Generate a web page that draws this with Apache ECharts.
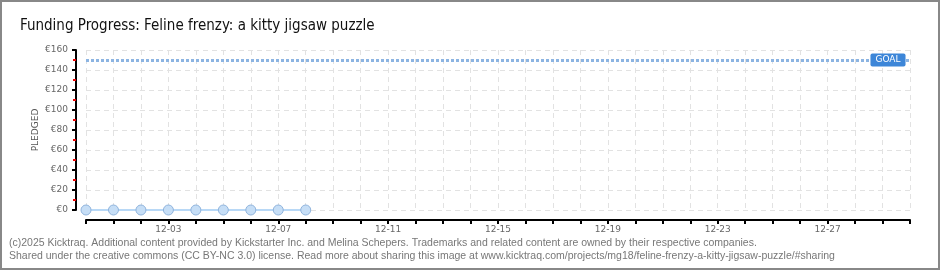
<!DOCTYPE html>
<html>
<head>
<meta charset="utf-8">
<script src="https://cdn.jsdelivr.net/npm/echarts@6/dist/echarts.min.js"></script>
<style>
html,body{margin:0;padding:0;background:#fff;}
#wrap{position:relative;width:940px;height:270px;}
#chart{position:absolute;left:0;top:0;width:940px;height:270px;}
#frame{position:absolute;left:0;top:0;width:940px;height:270px;box-sizing:border-box;border:2px solid #888;pointer-events:none;}
</style>
</head>
<body>
<div id="wrap"><div id="chart"></div><div id="frame"></div></div>
<script>
const dates = ['11-30','12-01','12-02','12-03','12-04','12-05','12-06','12-07','12-08','12-09','12-10','12-11','12-12','12-13','12-14','12-15','12-16','12-17','12-18','12-19','12-20','12-21','12-22','12-23','12-24','12-25','12-26','12-27','12-28','12-29','12-30'];
const pledged = [0,0,0,0,0,0,0,0,0];
const goal = 150;
const yTicks = [0,20,40,60,80,100,120,140,160];
const titleText = 'Funding Progress: Feline frenzy: a kitty jigsaw puzzle';
const footer1 = '(c)2025 Kicktraq. Additional content provided by Kickstarter Inc. and Melina Schepers. Trademarks and related content are owned by their respective companies.';
const footer2 = 'Shared under the creative commons (CC BY-NC 3.0) license. Read more about sharing this image at www.kicktraq.com/projects/mg18/feline-frenzy-a-kitty-jigsaw-puzzle/#sharing';

const chart = echarts.init(document.getElementById('chart'));
const axisFont = "'DejaVu Sans', sans-serif";
chart.setOption({
  animation: false,
  title: {
    text: titleText, left: 15, top: 14,
    textStyle: {fontFamily: "'DejaVu Sans Condensed','Liberation Sans Narrow',sans-serif", fontSize: 15, fontWeight: 'normal', color: '#111'}
  },
  grid: {left: 86, right: 30, top: 50, bottom: 60},
  xAxis: {
    type: 'category', data: dates, boundaryGap: false, offset: 10,
    axisLine: {onZero: false, lineStyle: {color: '#000', width: 2}},
    axisTick: {interval: 0, length: 4, lineStyle: {color: '#000', width: 2}},
    axisLabel: {interval: (i) => i % 4 === 3, fontSize: 9, color: '#666', fontFamily: axisFont, margin: 5},
    splitLine: {show: true, interval: 0, lineStyle: {color: '#e2e2e2', type: [5,4]}}
  },
  yAxis: {
    type: 'value', min: yTicks[0], max: yTicks[yTicks.length-1], interval: 20, offset: 10,
    name: 'PLEDGED', nameLocation: 'middle', nameGap: 36, nameRotate: 90, nameMoveOverlap: false,
    nameTextStyle: {fontSize: 9, color: '#555', fontFamily: axisFont},
    axisLine: {show: true, onZero: false, lineStyle: {color: '#000', width: 2}},
    axisTick: {show: true, length: 4, lineStyle: {color: '#000', width: 2}},
    minorTick: {show: true, splitNumber: 2, length: 3, lineStyle: {color: '#e00', width: 2}},
    axisLabel: {formatter: (v) => '€' + v, fontSize: 9, color: '#666', fontFamily: axisFont, margin: 8},
    splitLine: {show: true, lineStyle: {color: '#e2e2e2', type: [5,4]}}
  },
  series: [{
    type: 'line', data: pledged,
    symbol: 'circle', symbolSize: 10,
    lineStyle: {color: '#b8d8f6', width: 2},
    itemStyle: {color: '#c6def6', borderColor: '#8fb3dc', borderWidth: 1},
    markLine: {
      silent: true, symbol: ['none','none'],
      lineStyle: {color: '#8cb4e2', width: 3, type: [3,2]},
      label: {show: false},
      data: [{yAxis: goal}]
    },
    markPoint: {
      silent: true,
      symbol: 'rect', symbolSize: 0,
      data: [{coord: [dates[dates.length-1], goal]}],
      label: {
        show: true, formatter: 'GOAL', position: 'inside', offset: [-22, 0],
        backgroundColor: '#3d86d8', color: '#fff', fontSize: 9, fontFamily: axisFont,
        padding: [2,5,2,5], borderRadius: 2
      }
    }
  }],
  graphic: [
    {type: 'text', left: 9, top: 238, style: {text: footer1, font: "10.5px 'Liberation Sans', sans-serif", fill: '#777'}},
    {type: 'text', left: 9, top: 251, style: {text: footer2, font: "10.5px 'Liberation Sans', sans-serif", fill: '#777'}}
  ]
});
</script>
</body>
</html>
